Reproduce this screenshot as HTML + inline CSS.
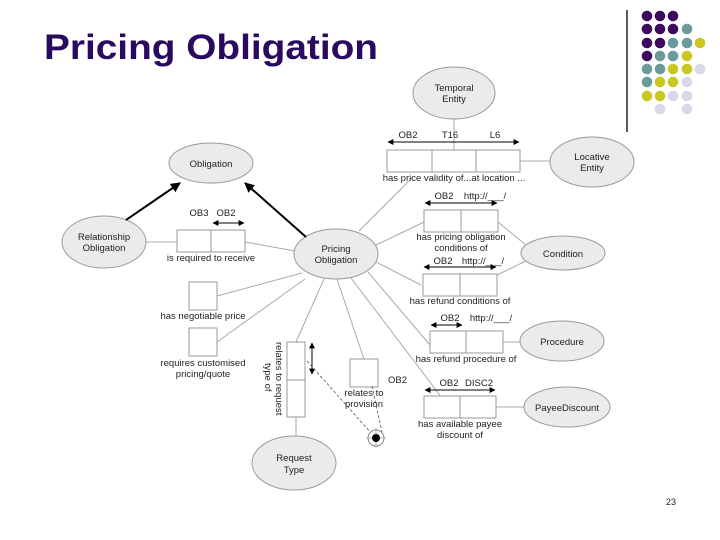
<!DOCTYPE html>
<html><head><meta charset="utf-8"><style>
html,body{margin:0;padding:0;background:#fff;width:720px;height:540px;overflow:hidden}
svg{display:block}
text{font-family:"Liberation Sans",sans-serif;font-size:9.5px;fill:#222}
</style></head><body>
<svg width="720" height="540" viewBox="0 0 720 540" xmlns="http://www.w3.org/2000/svg">
<defs>
<marker id="a" viewBox="0 0 10 10" refX="9" refY="5" markerWidth="6" markerHeight="6" orient="auto-start-reverse"><path d="M0,0L10,5L0,10z" fill="#000"/></marker>
<marker id="b" viewBox="0 0 10 10" refX="9" refY="5" markerWidth="5" markerHeight="5" orient="auto"><path d="M0,0L10,5L0,10z" fill="#000"/></marker>
</defs>
<text x="44" y="59" textLength="334" lengthAdjust="spacingAndGlyphs" style="font-size:35px;font-weight:bold;fill:#2a0a5e">Pricing Obligation</text>
<line x1="627" y1="10" x2="627" y2="132" stroke="#000" stroke-width="1.3"/>
<g>
<circle cx="647" cy="16" r="5.3" fill="#3d0a5e"/><circle cx="660" cy="16" r="5.3" fill="#3d0a5e"/><circle cx="673" cy="16" r="5.3" fill="#3d0a5e"/>
<circle cx="647" cy="29" r="5.3" fill="#3d0a5e"/><circle cx="660" cy="29" r="5.3" fill="#3d0a5e"/><circle cx="673" cy="29" r="5.3" fill="#3d0a5e"/><circle cx="687" cy="29" r="5.3" fill="#6a9a9a"/>
<circle cx="647" cy="43" r="5.3" fill="#3d0a5e"/><circle cx="660" cy="43" r="5.3" fill="#3d0a5e"/><circle cx="673" cy="43" r="5.3" fill="#6a9a9a"/><circle cx="687" cy="43" r="5.3" fill="#6a9a9a"/><circle cx="700" cy="43" r="5.3" fill="#c8c820"/>
<circle cx="647" cy="56" r="5.3" fill="#3d0a5e"/><circle cx="660" cy="56" r="5.3" fill="#6a9a9a"/><circle cx="673" cy="56" r="5.3" fill="#6a9a9a"/><circle cx="687" cy="56" r="5.3" fill="#c8c820"/>
<circle cx="647" cy="69" r="5.3" fill="#6a9a9a"/><circle cx="660" cy="69" r="5.3" fill="#6a9a9a"/><circle cx="673" cy="69" r="5.3" fill="#c8c820"/><circle cx="687" cy="69" r="5.3" fill="#c8c820"/><circle cx="700" cy="69" r="5.3" fill="#d8d8e8"/>
<circle cx="647" cy="82" r="5.3" fill="#6a9a9a"/><circle cx="660" cy="82" r="5.3" fill="#c8c820"/><circle cx="673" cy="82" r="5.3" fill="#c8c820"/><circle cx="687" cy="82" r="5.3" fill="#d8d8e8"/>
<circle cx="647" cy="96" r="5.3" fill="#c8c820"/><circle cx="660" cy="96" r="5.3" fill="#c8c820"/><circle cx="673" cy="96" r="5.3" fill="#d8d8e8"/><circle cx="687" cy="96" r="5.3" fill="#d8d8e8"/>
<circle cx="660" cy="109" r="5.3" fill="#d8d8e8"/><circle cx="687" cy="109" r="5.3" fill="#d8d8e8"/>
</g>
<g stroke="#aaa" stroke-width="1" fill="none">
<line x1="454" y1="119" x2="454" y2="150"/>
<line x1="520" y1="161" x2="550" y2="161"/>
<line x1="359" y1="231" x2="412" y2="178"/>
<line x1="374" y1="246" x2="424" y2="222"/>
<line x1="498" y1="222" x2="527" y2="246"/>
<line x1="376" y1="262" x2="421" y2="285"/>
<line x1="497" y1="275" x2="528" y2="260"/>
<line x1="368" y1="272" x2="430" y2="345"/>
<line x1="503" y1="342" x2="520" y2="342"/>
<line x1="351" y1="278" x2="442" y2="398"/>
<line x1="496" y1="407" x2="525" y2="407"/>
<line x1="146" y1="242" x2="177" y2="242"/>
<line x1="245" y1="242" x2="295" y2="251"/>
<line x1="217" y1="296" x2="302" y2="273"/>
<line x1="217" y1="342" x2="305" y2="279"/>
<line x1="324" y1="279" x2="296" y2="342"/>
<line x1="296" y1="417" x2="296" y2="436"/>
<line x1="337" y1="279" x2="364" y2="359"/>
</g>
<g fill="#ebebeb" stroke="#999" stroke-width="1">
<ellipse cx="454" cy="93" rx="41" ry="26"/>
<ellipse cx="592" cy="162" rx="42" ry="25"/>
<ellipse cx="211" cy="163" rx="42" ry="20"/>
<ellipse cx="104" cy="242" rx="42" ry="26"/>
<ellipse cx="336" cy="254" rx="42" ry="25"/>
<ellipse cx="563" cy="253" rx="42" ry="17"/>
<ellipse cx="562" cy="341" rx="42" ry="20"/>
<ellipse cx="567" cy="407" rx="43" ry="20"/>
<ellipse cx="294" cy="463" rx="42" ry="27"/>
</g>
<g fill="#fff" stroke="#999" stroke-width="1">
<rect x="387" y="150" width="133" height="22"/><line x1="432" y1="150" x2="432" y2="172"/><line x1="476" y1="150" x2="476" y2="172"/>
<rect x="424" y="210" width="74" height="22"/><line x1="461" y1="210" x2="461" y2="232"/>
<rect x="423" y="274" width="74" height="22"/><line x1="460" y1="274" x2="460" y2="296"/>
<rect x="430" y="331" width="73" height="22"/><line x1="466" y1="331" x2="466" y2="353"/>
<rect x="424" y="396" width="72" height="22"/><line x1="460" y1="396" x2="460" y2="418"/>
<rect x="177" y="230" width="68" height="22"/><line x1="211" y1="230" x2="211" y2="252"/>
<rect x="189" y="282" width="28" height="28"/>
<rect x="189" y="328" width="28" height="28"/>
<rect x="287" y="342" width="18" height="75"/><line x1="287" y1="380" x2="305" y2="380"/>
<rect x="350" y="359" width="28" height="28"/>
</g>
<g stroke="#000" stroke-width="1" marker-start="url(#a)" marker-end="url(#a)">
<line x1="388" y1="142" x2="519" y2="142"/>
<line x1="425" y1="203" x2="497" y2="203"/>
<line x1="424" y1="267" x2="496" y2="267"/>
<line x1="431" y1="325" x2="462" y2="325"/>
<line x1="425" y1="390" x2="495" y2="390"/>
<line x1="213" y1="223" x2="244" y2="223"/>
<line x1="312" y1="343" x2="312" y2="374"/>
</g>
<g stroke="#000" stroke-width="2" marker-end="url(#b)">
<line x1="126" y1="220" x2="180" y2="183"/>
<line x1="306" y1="237" x2="245" y2="183"/>
</g>
<g stroke="#555" stroke-width="0.8" stroke-dasharray="3,2" fill="none">
<line x1="307" y1="361" x2="372" y2="434"/>
<line x1="372" y1="386" x2="382" y2="432"/>
</g>
<circle cx="376" cy="438" r="8" fill="#fff" stroke="#888"/>
<line x1="366" y1="438" x2="386" y2="438" stroke="#888" stroke-width="0.6"/>
<line x1="376" y1="428" x2="376" y2="448" stroke="#888" stroke-width="0.6"/>
<circle cx="376" cy="438" r="4" fill="#000"/>
<g text-anchor="middle">
<text x="454" y="91">Temporal</text><text x="454" y="102">Entity</text>
<text x="592" y="160">Locative</text><text x="592" y="171">Entity</text>
<text x="211" y="167">Obligation</text>
<text x="104" y="240">Relationship</text><text x="104" y="251">Obligation</text>
<text x="336" y="252">Pricing</text><text x="336" y="263">Obligation</text>
<text x="563" y="257">Condition</text>
<text x="562" y="345">Procedure</text>
<text x="567" y="411">PayeeDiscount</text>
<text x="294" y="461">Request</text><text x="294" y="473">Type</text>
<text x="408" y="138">OB2</text><text x="450" y="138">T16</text><text x="495" y="138">L6</text>
<text x="454" y="181">has price validity of...at location ...</text>
<text x="444" y="199">OB2</text><text x="485" y="199">http://___/</text>
<text x="461" y="240">has pricing obligation</text><text x="461" y="251">conditions of</text>
<text x="443" y="264">OB2</text><text x="483" y="264">http://___/</text>
<text x="460" y="304">has refund conditions of</text>
<text x="450" y="321">OB2</text><text x="491" y="321">http://___/</text>
<text x="466" y="362">has refund procedure of</text>
<text x="449" y="386">OB2</text><text x="479" y="386">DISC2</text>
<text x="460" y="427">has available payee</text><text x="460" y="438">discount of</text>
<text x="199" y="216">OB3</text><text x="226" y="216">OB2</text>
<text x="211" y="261">is required to receive</text>
<text x="203" y="319">has negotiable price</text>
<text x="203" y="366">requires customised</text><text x="203" y="377">pricing/quote</text>
<text x="364" y="396">relates to</text><text x="364" y="407">provision</text>
<text x="671" y="505" style="font-size:9px">23</text>
</g>
<text x="388" y="383">OB2</text>
<text transform="translate(276,342) rotate(90)">relates to request</text>
<text transform="translate(265,363) rotate(90)">type of</text>
</svg>
</body></html>
